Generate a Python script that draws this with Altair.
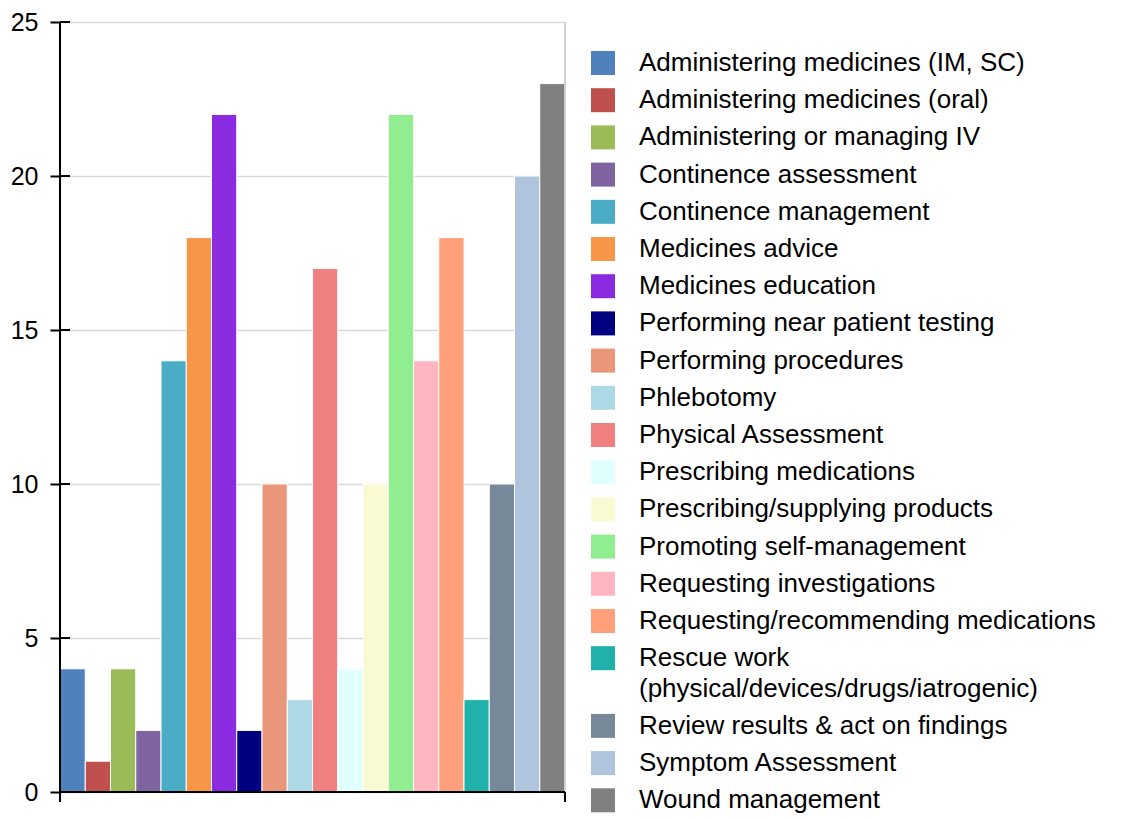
import altair as alt
import pandas as pd

legend_labels = [
    "Administering medicines (IM, SC)",
    "Administering medicines (oral)",
    "Administering or managing IV",
    "Continence assessment",
    "Continence management",
    "Medicines advice",
    "Medicines education",
    "Performing near patient testing",
    "Performing procedures",
    "Phlebotomy",
    "Physical Assessment",
    "Prescribing medications",
    "Prescribing/supplying products",
    "Promoting self-management",
    "Requesting investigations",
    "Requesting/recommending medications",
    "Rescue work\n(physical/devices/drugs/iatrogenic)",
    "Review results & act on findings",
    "Symptom Assessment",
    "Wound management",
]
values = [4, 1, 4, 2, 14, 18, 22, 2, 10, 3, 17, 4, 10, 22, 14, 18, 3, 10, 20, 23]
colors = [
    "#4F81BD", "#C0504D", "#9BBB59", "#8064A2", "#4BACC6",
    "#F79646", "#8A2BE2", "#000080", "#E9967A", "#ADD8E6",
    "#F08080", "#E0FFFF", "#FAFAD2", "#90EE90", "#FFB6C1",
    "#FFA07A", "#20B2AA", "#778899", "#B0C4DE", "#808080",
]
y_ticks = [0, 5, 10, 15, 20, 25]

FONT = "Liberation Sans"
W, H = 505, 770
LEG_FONT = 26
ROW = 37.2          # legend row pitch (px)
WRAP = 30.5         # extra line pitch of a wrapped label (px)

categories = [lab.replace("\n", " ") for lab in legend_labels]
df = pd.DataFrame({"task": categories, "count": values})

# legend rows: slot index accounts for wrapped labels
rows = []
slot = 0.0
for cat, lab in zip(categories, legend_labels):
    parts = lab.split("\n")
    rows.append({"task": cat, "slot": slot, "line1": parts[0],
                 "line2": parts[1] if len(parts) > 1 else ""})
    slot += 1 + (len(parts) - 1) * WRAP / ROW
leg = pd.DataFrame(rows)
last_slot = rows[-1]["slot"]
top_px = 41
bottom_px = top_px + last_slot * ROW

ticks_df = pd.DataFrame({"v": y_ticks})

color_enc = alt.Color("task:N", scale=alt.Scale(domain=categories, range=colors), legend=None)

bars = alt.Chart(df).mark_bar(stroke="white", strokeWidth=1).encode(
    x=alt.X("task:N", sort=categories,
            scale=alt.Scale(paddingInner=0, paddingOuter=0),
            axis=alt.Axis(title=None, labels=False, ticks=False, domain=False)),
    y=alt.Y("count:Q", scale=alt.Scale(domain=[0, 25], nice=False),
            axis=alt.Axis(values=y_ticks, title=None, tickSize=10, tickWidth=2,
                          tickColor="black", domain=False,
                          labelFontSize=25, labelPadding=12, labelColor="black",
                          labelFont=FONT, grid=True, gridColor="#d9d9d9", gridWidth=1.5)),
    color=color_enc,
)

base_rule = alt.Chart(ticks_df)
inner_ticks = base_rule.mark_rule(color="black", strokeWidth=2).encode(
    y=alt.Y("v:Q"), x=alt.value(0), x2=alt.value(10))
right_border = base_rule.mark_rule(color="#d0d0d0", strokeWidth=1.5).encode(
    x=alt.value(W), y=alt.value(0), y2=alt.value(H))
left_axis = base_rule.mark_rule(color="black", strokeWidth=2).encode(
    x=alt.value(0), y=alt.value(0), y2=alt.value(H))
bottom_axis = base_rule.mark_rule(color="black", strokeWidth=2).encode(
    x=alt.value(0), x2=alt.value(W), y=alt.value(H))
end_tick_l = base_rule.mark_rule(color="black", strokeWidth=2).encode(
    x=alt.value(0), y=alt.value(H), y2=alt.value(H + 10))
end_tick_r = base_rule.mark_rule(color="black", strokeWidth=2).encode(
    x=alt.value(W), y=alt.value(H), y2=alt.value(H + 10))

bar_chart = alt.layer(bars, right_border, inner_ticks, left_axis, bottom_axis,
                      end_tick_l, end_tick_r).properties(width=W, height=H)

leg_y = alt.Y("slot:Q", scale=alt.Scale(domain=[0, last_slot], range=[top_px, bottom_px]),
              axis=None)
squares = alt.Chart(leg).mark_square(size=576, opacity=1).encode(
    x=alt.value(37), y=leg_y, color=color_enc)
text1 = alt.Chart(leg).mark_text(align="left", baseline="middle", font=FONT,
                                 fontSize=LEG_FONT, color="black").encode(
    x=alt.value(73), y=leg_y, text="line1:N")
text2 = alt.Chart(leg).transform_filter("datum.line2 != ''").mark_text(
    align="left", baseline="middle", font=FONT, fontSize=LEG_FONT, color="black",
    dy=WRAP).encode(
    x=alt.value(73), y=leg_y, text="line2:N")
legend_chart = alt.layer(squares, text1, text2).properties(width=545, height=H)

chart = alt.hconcat(bar_chart, legend_chart, spacing=0).properties(
    padding={"left": 2, "top": 2, "right": 0, "bottom": 0}
).configure_view(strokeWidth=0)

chart.save("out.html", embed_options={"renderer": "svg", "actions": False})
